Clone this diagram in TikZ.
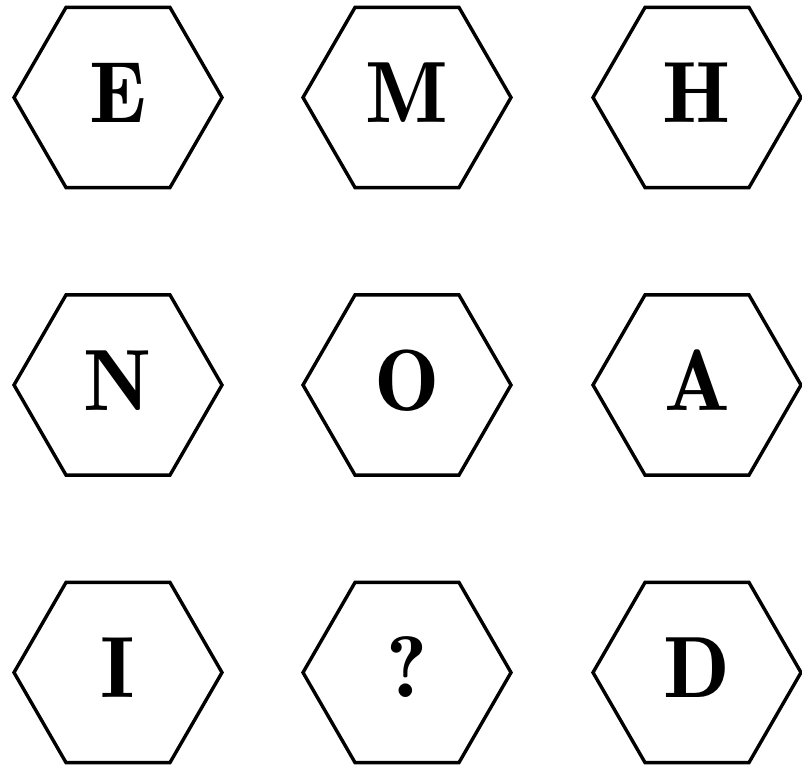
\documentclass[tikz,border=0pt]{standalone}
\usepackage{xcolor}
\usepackage{fontspec}
\usepackage{tikz}
\usetikzlibrary{shapes.geometric}

\newfontfamily\demifont{lmromandemi10-regular.otf}

\begin{document}
\begin{tikzpicture}[x=0.5pt, y=-0.5pt,
    hexa/.style={draw, line width=1.7pt, regular polygon, regular polygon sides=6,
        minimum size=104pt, inner sep=0pt, text height=30pt, text depth=5pt,
        font=\demifont\fontsize{43.5}{43.5}\selectfont}]
    \useasboundingbox (0, 0) rectangle (802, 775);

    \node[hexa] at (118, 97.5) (hE) {E};
    \node[hexa] at (407, 97.5) (hM) {M};
    \node[hexa] at (697, 97.5) (hH) {H};

    \node[hexa] at (118, 385) (hN) {N};
    \node[hexa] at (407, 385) (hO) {O};
    \node[hexa] at (697, 385) (hA) {A};

    \node[hexa] at (118, 672.5) (hI) {I};
    \node[hexa] at (407, 672.5) (hQ) {?};
    \node[hexa] at (697, 672.5) (hD) {D};
\end{tikzpicture}
\end{document}
